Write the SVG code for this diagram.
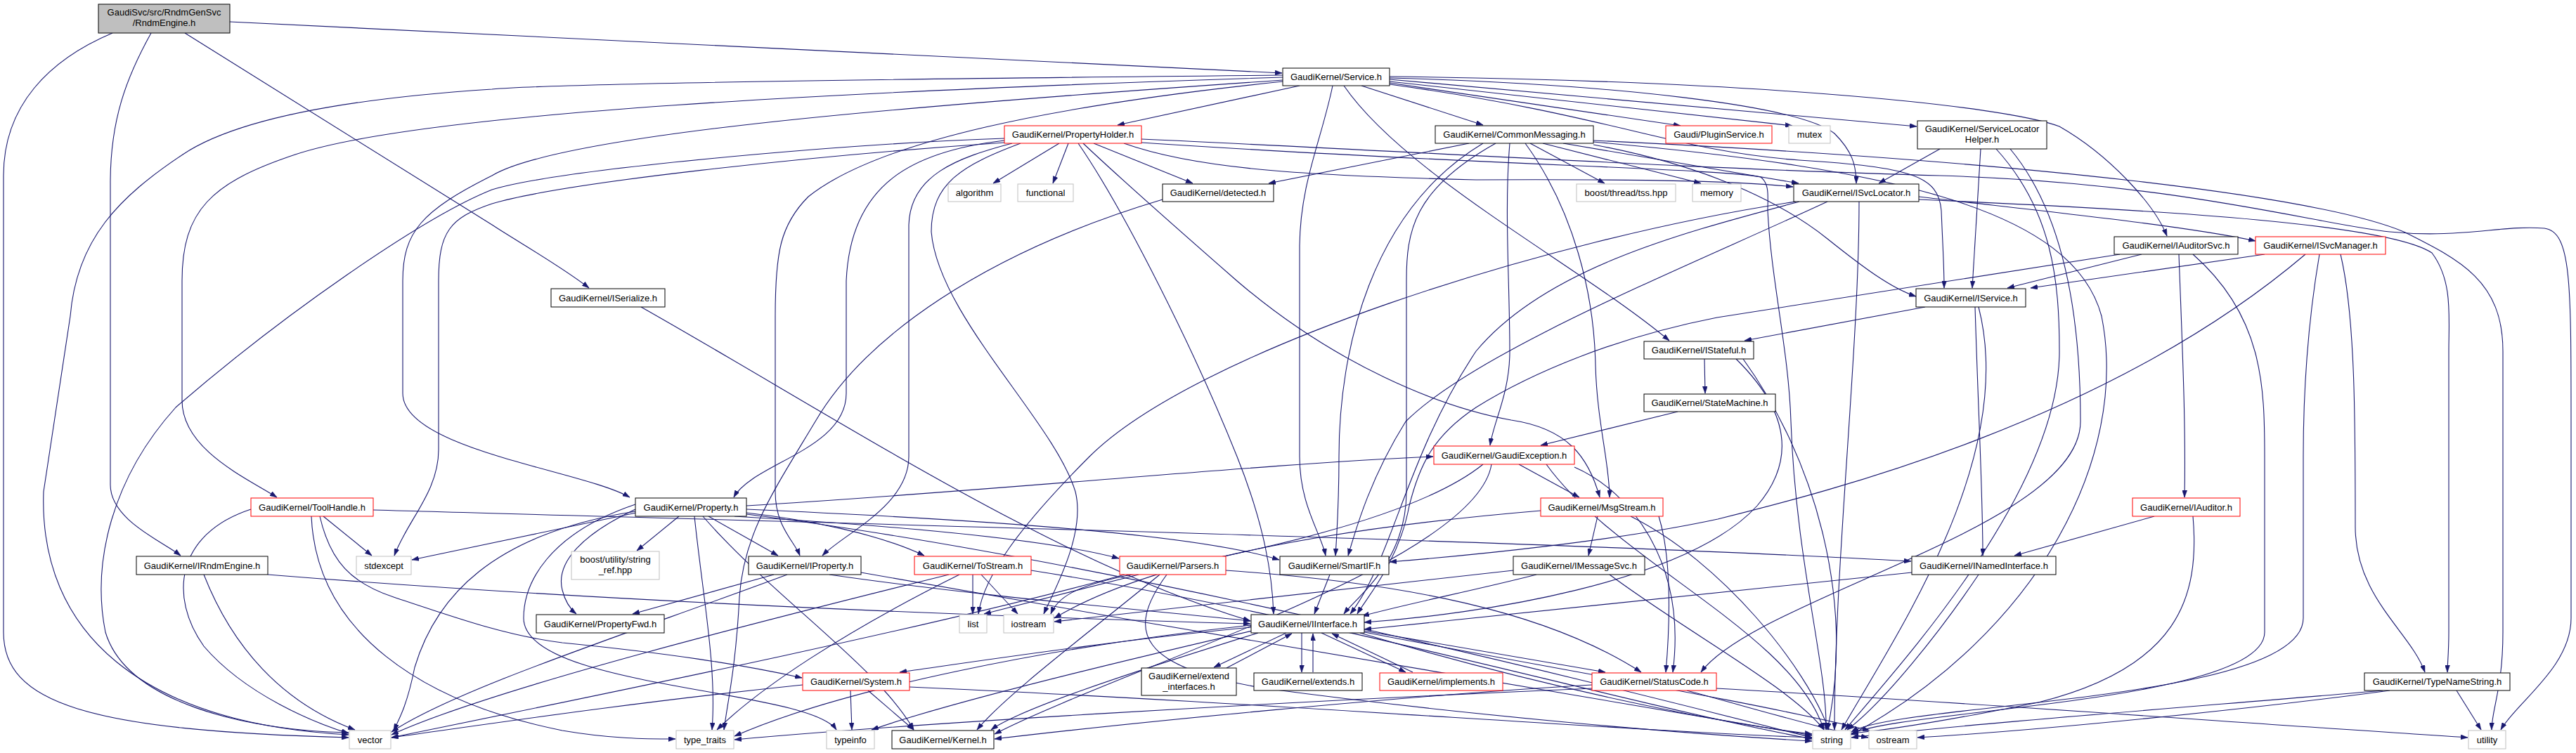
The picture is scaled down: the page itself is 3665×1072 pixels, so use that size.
<svg xmlns="http://www.w3.org/2000/svg" width="3665" height="1072" viewBox="0 0 3665 1072">
<defs>
<marker id="arr" viewBox="0 0 10 7" refX="10" refY="3.5" markerWidth="10" markerHeight="7" orient="auto" markerUnits="userSpaceOnUse"><path d="M0,0 L10,3.5 L0,7 z" fill="#191970" stroke="#191970" stroke-width="0.5"/></marker>
<style>
.edges path{fill:none;stroke:#191970;stroke-width:1.1;marker-end:url(#arr)}
.node rect{fill:#ffffff;stroke:#000000;stroke-width:1}
.node.red rect{stroke:#ff0000}
.node.ext rect{stroke:#bfbfbf}
.node.root rect{fill:#bfbfbf}
.node text{font-family:"Liberation Sans",Arial,Helvetica,sans-serif;font-size:13px;text-anchor:middle;fill:#000000}
</style>
</defs>
<rect width="3665" height="1072" fill="#ffffff"/>
<g id="edges" class="edges" marker-end="url(#arr)">
<path d="M327,31 L1824,104"/>
<path d="M263,47 L700,320 C730,340 800,380 838,410"/>
<path d="M215,47 C180,110 157,170 157,260 L157,690 C157,740 230,770 257,791"/>
<path d="M160,47 C70,85 5,150 5,250 L5,900 C5,1000 120,1040 496,1050"/>
<path d="M1849,122 L1590,178"/>
<path d="M1937,122 L2110,178"/>
<path d="M1977,118 L2391,179"/>
<path d="M1977,116 L2550,179"/>
<path d="M1977,113 L2727,180"/>
<path d="M1977,111 C2300,120 2560,150 2610,190 C2635,215 2641,235 2641,261"/>
<path d="M1977,109 C2500,115 2850,150 2930,180 C3000,220 3065,290 3083,336"/>
<path d="M1977,120 C2300,165 2380,215 2560,228 C2720,238 2758,250 2762,300 C2764,350 2766,380 2766,410"/>
<path d="M1912,122 C2000,250 2250,380 2375,485"/>
<path d="M1896,122 C1880,200 1850,260 1849,350 L1849,650 C1849,720 1880,760 1886,791"/>
<path d="M1825,114 C1300,150 800,190 700,250 C600,300 573,330 573,400 L573,560 C573,640 830,670 896,708"/>
<path d="M1825,110 C1200,130 600,160 420,220 C300,260 259,300 259,400 L259,570 C259,640 350,680 394,708"/>
<path d="M1825,107 C1300,112 800,118 700,127 C500,140 339,167 260,220 C170,280 109,340 100,450 L62,700 C55,900 200,1030 496,1046"/>
<path d="M1825,116 C1500,150 1250,200 1150,280 C1110,320 1103,360 1103,450 L1103,700 C1103,750 1130,770 1138,791"/>
<path d="M1507,204 L1413,261"/>
<path d="M1520,204 L1498,261"/>
<path d="M1556,204 L1697,261"/>
<path d="M1429,197 C1200,205 800,240 700,270 C600,310 400,450 250,580 C160,680 130,800 150,900 C180,1000 350,1040 496,1043"/>
<path d="M1429,203 C1150,222 800,260 700,290 C640,310 624,330 624,400 L624,640 C624,700 580,740 561,791"/>
<path d="M1452,204 C1370,235 1325,260 1325,330 C1335,450 1500,600 1530,700 C1545,760 1500,840 1485,874"/>
<path d="M1429,200 C1300,215 1210,260 1204,400 L1204,560 C1204,640 1070,660 1044,708"/>
<path d="M1440,204 C1360,225 1295,250 1293,320 L1293,650 C1293,720 1200,760 1170,791"/>
<path d="M1599,204 C1700,240 1850,250 2100,256 C2350,255 2480,258 2551,266"/>
<path d="M1541,204 C1600,260 1680,330 1760,400 C1900,520 2050,580 2150,598 C2230,610 2260,650 2276,708"/>
<path d="M1534,204 C1600,300 1700,500 1760,650 C1800,750 1810,820 1812,874"/>
<path d="M1624,203 C2100,235 2450,240 2505,252 C2518,262 2515,280 2515,300 C2520,400 2545,500 2548,600 C2555,800 2600,950 2598,1039"/>
<path d="M1624,198 C2000,215 2400,240 2760,250 C3100,260 3300,320 3400,330 C3500,340 3560,320 3620,325 C3658,330 3658,400 3658,600 L3658,880 C3658,950 3580,1000 3558,1039"/>
<path d="M2090,204 L1805,261"/>
<path d="M2177,204 L2283,261"/>
<path d="M2195,204 L2420,261"/>
<path d="M2224,204 L2559,261"/>
<path d="M2267,206 C2450,240 2550,300 2600,340 C2650,380 2690,410 2726,422"/>
<path d="M2148,204 C2140,300 2148,400 2148,500 C2148,560 2125,600 2120,634"/>
<path d="M2170,204 C2240,300 2268,420 2270,520 C2272,600 2290,660 2290,708"/>
<path d="M2110,204 C1950,300 1905,500 1905,650 C1905,720 1902,760 1900,791"/>
<path d="M2128,204 C2010,270 2001,330 2001,400 L2001,700 C2001,800 1930,850 1912,874"/>
<path d="M2267,202 C2700,240 2950,300 2990,450 C3030,650 2900,900 2634,1046"/>
<path d="M2267,200 C2900,230 3300,280 3420,330 C3500,370 3561,400 3561,500 L3561,900 C3561,980 3545,1010 3545,1039"/>
<path d="M1654,284 C1400,360 1230,480 1160,600 C1100,700 1058,760 1052,850 C1047,950 1035,1000 1030,1039"/>
<path d="M2760,212 L2673,261"/>
<path d="M2818,212 L2806,410"/>
<path d="M2840,212 C2920,300 2930,400 2930,500 C2930,700 2700,950 2625,1039"/>
<path d="M2860,212 C2950,320 2960,500 2960,600 C2960,750 2500,850 2420,957"/>
<path d="M2730,280 C2900,300 3100,320 3209,343"/>
<path d="M2730,284 C3100,300 3400,320 3460,360 C3490,400 3484,450 3484,500 L3484,900 C3484,930 3482,945 3482,957"/>
<path d="M2560,287 C2400,330 2200,380 2100,500 C2000,650 1980,800 1921,874"/>
<path d="M2600,287 C2400,380 2100,500 2000,600 C1950,680 1930,750 1918,791"/>
<path d="M2555,287 C2200,340 1700,500 1550,650 C1450,750 1400,820 1392,874"/>
<path d="M2645,287 C2645,500 2610,800 2610,1039"/>
<path d="M3047,362 L2856,410"/>
<path d="M3100,362 C3105,500 3110,600 3108,708"/>
<path d="M3120,362 C3220,450 3222,550 3222,650 L3222,900 C3222,1000 2700,1010 2634,1045"/>
<path d="M3016,362 L2443,452 C2300,480 2180,530 2100,580 C2040,620 2020,660 2005,720 C1990,800 1945,850 1931,874"/>
<path d="M3222,362 L2889,410"/>
<path d="M3330,362 C3351,450 3351,600 3351,750 C3351,850 3430,900 3450,957"/>
<path d="M3300,362 C3285,450 3277,550 3277,650 L3277,880 C3277,1000 2700,1000 2634,1042"/>
<path d="M3280,362 C3000,600 2600,700 2444,739 C2300,770 2100,790 1977,800"/>
<path d="M912,437 C1200,600 1500,800 1779,884"/>
<path d="M2739,437 L2482,485"/>
<path d="M2810,437 C2815,600 2821,700 2821,791"/>
<path d="M2815,437 C2870,650 2700,900 2620,1039"/>
<path d="M2425,511 L2426,560"/>
<path d="M2470,511 C2540,580 2560,650 2500,720 C2400,830 2100,875 1941,886"/>
<path d="M2480,511 C2580,650 2640,850 2600,1039"/>
<path d="M2387,586 L2192,634"/>
<path d="M2161,661 L2247,708"/>
<path d="M2110,661 C2000,750 1700,800 1600,820 C1530,835 1505,850 1495,874"/>
<path d="M2122,661 C2100,800 1600,950 1415,1045"/>
<path d="M2240,665 C2320,700 2400,800 2380,957"/>
<path d="M2200,661 C2300,800 2550,900 2595,1039"/>
<path d="M357,725 C250,760 240,850 290,920 C350,990 450,1030 496,1044"/>
<path d="M460,735 L529,791"/>
<path d="M443,735 C450,900 600,1000 800,1040 C870,1052 920,1052 961,1052"/>
<path d="M455,735 C470,800 500,830 560,850 C650,880 720,905 800,915 C950,930 1050,945 1141,965"/>
<path d="M531,726 C1200,745 2200,770 2719,799"/>
<path d="M905,730 L586,797"/>
<path d="M966,735 L906,784"/>
<path d="M904,725 C830,760 790,800 800,840 C805,860 815,870 820,874"/>
<path d="M1008,735 L1107,791"/>
<path d="M1062,730 C1150,740 1250,760 1315,791"/>
<path d="M1045,735 C1300,750 1500,770 1592,795"/>
<path d="M1062,725 C1400,740 1700,760 1820,797"/>
<path d="M988,735 C1000,850 1020,950 1013,1039"/>
<path d="M904,718 C780,760 745,830 745,880 C745,980 1150,980 1190,1039"/>
<path d="M1000,735 C1100,850 1250,950 1300,1039"/>
<path d="M1062,732 C1600,800 2300,980 2578,1050"/>
<path d="M904,728 C700,760 620,850 590,950 C580,1000 570,1020 560,1040"/>
<path d="M1062,720 C1400,700 1800,660 2039,650"/>
<path d="M290,818 C330,920 400,1000 505,1039"/>
<path d="M381,818 C900,860 1500,880 1779,888"/>
<path d="M1101,818 L900,874"/>
<path d="M1120,818 C900,900 650,980 557,1042"/>
<path d="M1180,818 C1400,850 1650,870 1779,884"/>
<path d="M1225,815 C1700,900 2300,1000 2578,1047"/>
<path d="M1384,818 L1384,874"/>
<path d="M1396,818 L1448,874"/>
<path d="M1350,818 C1100,880 700,980 557,1046"/>
<path d="M1365,818 C1200,900 1080,980 1020,1039"/>
<path d="M1467,812 C1900,880 2300,1000 2578,1052"/>
<path d="M1620,818 L1400,874"/>
<path d="M1600,818 C1300,900 800,1000 557,1050"/>
<path d="M1650,818 C1550,900 1430,990 1390,1039"/>
<path d="M1660,818 C1600,900 1620,950 1800,980 C2100,1020 2400,1045 2578,1055"/>
<path d="M1744,812 C2000,830 2200,870 2335,957"/>
<path d="M1892,818 L1870,874"/>
<path d="M2153,812 C1900,840 1650,870 1500,885"/>
<path d="M2186,818 C2100,840 2000,860 1938,877"/>
<path d="M2290,818 C2400,900 2550,980 2595,1039"/>
<path d="M2273,735 L2260,791"/>
<path d="M2320,735 C2450,800 2570,950 2602,1039"/>
<path d="M2360,735 C2380,800 2375,900 2370,957"/>
<path d="M2192,727 C1800,760 1600,820 1500,880"/>
<path d="M2720,815 C2400,850 2100,880 1941,896"/>
<path d="M2815,818 C2760,900 2680,1000 2628,1039"/>
<path d="M3065,735 L2866,791"/>
<path d="M3120,735 C3130,850 3100,950 2900,1000 C2750,1030 2680,1040 2634,1044"/>
<path d="M1830,901 L1727,950"/>
<path d="M1852,901 L1852,957"/>
<path d="M1880,901 L2000,957"/>
<path d="M1940,898 L2284,957"/>
<path d="M1780,893 C1600,910 1400,940 1280,957"/>
<path d="M1790,901 C1600,960 1450,1010 1410,1039"/>
<path d="M1941,900 C2200,950 2500,1000 2660,1040"/>
<path d="M1935,901 C2200,980 2450,1030 2578,1045"/>
<path d="M1780,890 C1500,920 1200,980 1045,1048"/>
<path d="M1790,896 C1600,940 1350,1000 1240,1039"/>
<path d="M1745,951 L1838,902"/>
<path d="M1868,957 L1868,902"/>
<path d="M2010,957 L1895,902"/>
<path d="M1235,983 L1300,1039"/>
<path d="M1210,983 L1212,1039"/>
<path d="M1142,975 C900,1000 700,1030 557,1050"/>
<path d="M1294,978 C1800,1000 2300,1040 2578,1050"/>
<path d="M2265,975 C2000,990 1600,1030 1415,1052"/>
<path d="M2400,983 C2500,1010 2600,1040 2658,1050"/>
<path d="M2442,980 C2800,1000 3200,1030 3511,1050"/>
<path d="M2265,980 C1800,1000 1300,1030 1045,1053"/>
<path d="M3390,983 C3200,1000 2800,1030 2634,1050"/>
<path d="M3400,983 C3200,1010 2900,1040 2728,1050"/>
<path d="M3495,983 L3530,1039"/>
</g>
<g id="n_root" class="node root"><rect x="140" y="6" width="187" height="41"/><text x="233.5" y="22">GaudiSvc/src/RndmGenSvc</text><text x="233.5" y="37">/RndmEngine.h</text></g>
<g id="n_service" class="node"><rect x="1825" y="97" width="152" height="25"/><text x="1901" y="114">GaudiKernel/Service.h</text></g>
<g id="n_propertyholder" class="node red"><rect x="1429" y="179" width="195" height="25"/><text x="1526.5" y="196">GaudiKernel/PropertyHolder.h</text></g>
<g id="n_commonmessaging" class="node"><rect x="2042" y="179" width="225" height="25"/><text x="2154.5" y="196">GaudiKernel/CommonMessaging.h</text></g>
<g id="n_pluginservice" class="node red"><rect x="2370" y="179" width="151" height="25"/><text x="2445.5" y="196">Gaudi/PluginService.h</text></g>
<g id="n_mutex" class="node ext"><rect x="2545" y="179" width="59" height="25"/><text x="2574.5" y="196">mutex</text></g>
<g id="n_servicelocatorhelper" class="node"><rect x="2728" y="172" width="184" height="40"/><text x="2820" y="188">GaudiKernel/ServiceLocator</text><text x="2820" y="203">Helper.h</text></g>
<g id="n_algorithm" class="node ext"><rect x="1349" y="262" width="75" height="25"/><text x="1386.5" y="279">algorithm</text></g>
<g id="n_functional" class="node ext"><rect x="1448" y="262" width="79" height="25"/><text x="1487.5" y="279">functional</text></g>
<g id="n_detected" class="node"><rect x="1654" y="262" width="158" height="25"/><text x="1733" y="279">GaudiKernel/detected.h</text></g>
<g id="n_tss" class="node ext"><rect x="2243" y="262" width="141" height="25"/><text x="2313.5" y="279">boost/thread/tss.hpp</text></g>
<g id="n_memory" class="node ext"><rect x="2408" y="262" width="69" height="25"/><text x="2442.5" y="279">memory</text></g>
<g id="n_isvclocator" class="node"><rect x="2552" y="262" width="178" height="25"/><text x="2641" y="279">GaudiKernel/ISvcLocator.h</text></g>
<g id="n_iauditorsvc" class="node"><rect x="3008" y="337" width="176" height="25"/><text x="3096" y="354">GaudiKernel/IAuditorSvc.h</text></g>
<g id="n_isvcmanager" class="node red"><rect x="3209" y="337" width="185" height="25"/><text x="3301.5" y="354">GaudiKernel/ISvcManager.h</text></g>
<g id="n_iserialize" class="node"><rect x="784" y="411" width="162" height="26"/><text x="865" y="428.5">GaudiKernel/ISerialize.h</text></g>
<g id="n_iservice" class="node"><rect x="2726" y="411" width="156" height="26"/><text x="2804" y="428.5">GaudiKernel/IService.h</text></g>
<g id="n_istateful" class="node"><rect x="2339" y="486" width="156" height="25"/><text x="2417" y="503">GaudiKernel/IStateful.h</text></g>
<g id="n_statemachine" class="node"><rect x="2339" y="561" width="187" height="25"/><text x="2432.5" y="578">GaudiKernel/StateMachine.h</text></g>
<g id="n_gaudiexception" class="node red"><rect x="2040" y="635" width="200" height="26"/><text x="2140" y="652.5">GaudiKernel/GaudiException.h</text></g>
<g id="n_toolhandle" class="node red"><rect x="357" y="709" width="174" height="26"/><text x="444" y="726.5">GaudiKernel/ToolHandle.h</text></g>
<g id="n_property" class="node"><rect x="904" y="709" width="158" height="26"/><text x="983" y="726.5">GaudiKernel/Property.h</text></g>
<g id="n_msgstream" class="node red"><rect x="2192" y="709" width="174" height="26"/><text x="2279" y="726.5">GaudiKernel/MsgStream.h</text></g>
<g id="n_iauditor" class="node red"><rect x="3034" y="709" width="153" height="26"/><text x="3110.5" y="726.5">GaudiKernel/IAuditor.h</text></g>
<g id="n_irndmengine" class="node"><rect x="194" y="792" width="187" height="26"/><text x="287.5" y="809.5">GaudiKernel/IRndmEngine.h</text></g>
<g id="n_stdexcept" class="node ext"><rect x="507" y="792" width="78" height="26"/><text x="546" y="809.5">stdexcept</text></g>
<g id="n_stringref" class="node ext"><rect x="813" y="785" width="125" height="40"/><text x="875.5" y="801">boost/utility/string</text><text x="875.5" y="816">_ref.hpp</text></g>
<g id="n_iproperty" class="node"><rect x="1065" y="792" width="160" height="26"/><text x="1145" y="809.5">GaudiKernel/IProperty.h</text></g>
<g id="n_tostream" class="node red"><rect x="1301" y="792" width="166" height="26"/><text x="1384" y="809.5">GaudiKernel/ToStream.h</text></g>
<g id="n_parsers" class="node red"><rect x="1593" y="792" width="151" height="26"/><text x="1668.5" y="809.5">GaudiKernel/Parsers.h</text></g>
<g id="n_smartif" class="node"><rect x="1821" y="792" width="155" height="26"/><text x="1898.5" y="809.5">GaudiKernel/SmartIF.h</text></g>
<g id="n_imessagesvc" class="node"><rect x="2153" y="792" width="187" height="26"/><text x="2246.5" y="809.5">GaudiKernel/IMessageSvc.h</text></g>
<g id="n_inamedinterface" class="node"><rect x="2720" y="792" width="205" height="26"/><text x="2822.5" y="809.5">GaudiKernel/INamedInterface.h</text></g>
<g id="n_propertyfwd" class="node"><rect x="763" y="875" width="182" height="26"/><text x="854" y="892.5">GaudiKernel/PropertyFwd.h</text></g>
<g id="n_list" class="node ext"><rect x="1365" y="875" width="39" height="26"/><text x="1384.5" y="892.5">list</text></g>
<g id="n_iostream" class="node ext"><rect x="1428" y="875" width="71" height="26"/><text x="1463.5" y="892.5">iostream</text></g>
<g id="n_iinterface" class="node"><rect x="1780" y="875" width="161" height="26"/><text x="1860.5" y="892.5">GaudiKernel/IInterface.h</text></g>
<g id="n_system" class="node red"><rect x="1142" y="958" width="152" height="25"/><text x="1218" y="975">GaudiKernel/System.h</text></g>
<g id="n_extendinterfaces" class="node"><rect x="1624" y="951" width="135" height="39"/><text x="1691.5" y="967">GaudiKernel/extend</text><text x="1691.5" y="982">_interfaces.h</text></g>
<g id="n_extends" class="node"><rect x="1784" y="958" width="154" height="25"/><text x="1861" y="975">GaudiKernel/extends.h</text></g>
<g id="n_implements" class="node red"><rect x="1963" y="958" width="175" height="25"/><text x="2050.5" y="975">GaudiKernel/implements.h</text></g>
<g id="n_statuscode" class="node red"><rect x="2265" y="958" width="177" height="25"/><text x="2353.5" y="975">GaudiKernel/StatusCode.h</text></g>
<g id="n_typenamestring" class="node"><rect x="3364" y="958" width="207" height="25"/><text x="3467.5" y="975">GaudiKernel/TypeNameString.h</text></g>
<g id="n_vector" class="node ext"><rect x="497" y="1040" width="59" height="26"/><text x="526.5" y="1057.5">vector</text></g>
<g id="n_typetraits" class="node ext"><rect x="962" y="1040" width="82" height="26"/><text x="1003" y="1057.5">type_traits</text></g>
<g id="n_typeinfo" class="node ext"><rect x="1176" y="1040" width="68" height="26"/><text x="1210" y="1057.5">typeinfo</text></g>
<g id="n_kernel" class="node"><rect x="1269" y="1040" width="145" height="26"/><text x="1341.5" y="1057.5">GaudiKernel/Kernel.h</text></g>
<g id="n_string" class="node ext"><rect x="2579" y="1040" width="54" height="26"/><text x="2606" y="1057.5">string</text></g>
<g id="n_ostream" class="node ext"><rect x="2659" y="1040" width="68" height="26"/><text x="2693" y="1057.5">ostream</text></g>
<g id="n_utility" class="node ext"><rect x="3512" y="1040" width="53" height="26"/><text x="3538.5" y="1057.5">utility</text></g>
</svg>
